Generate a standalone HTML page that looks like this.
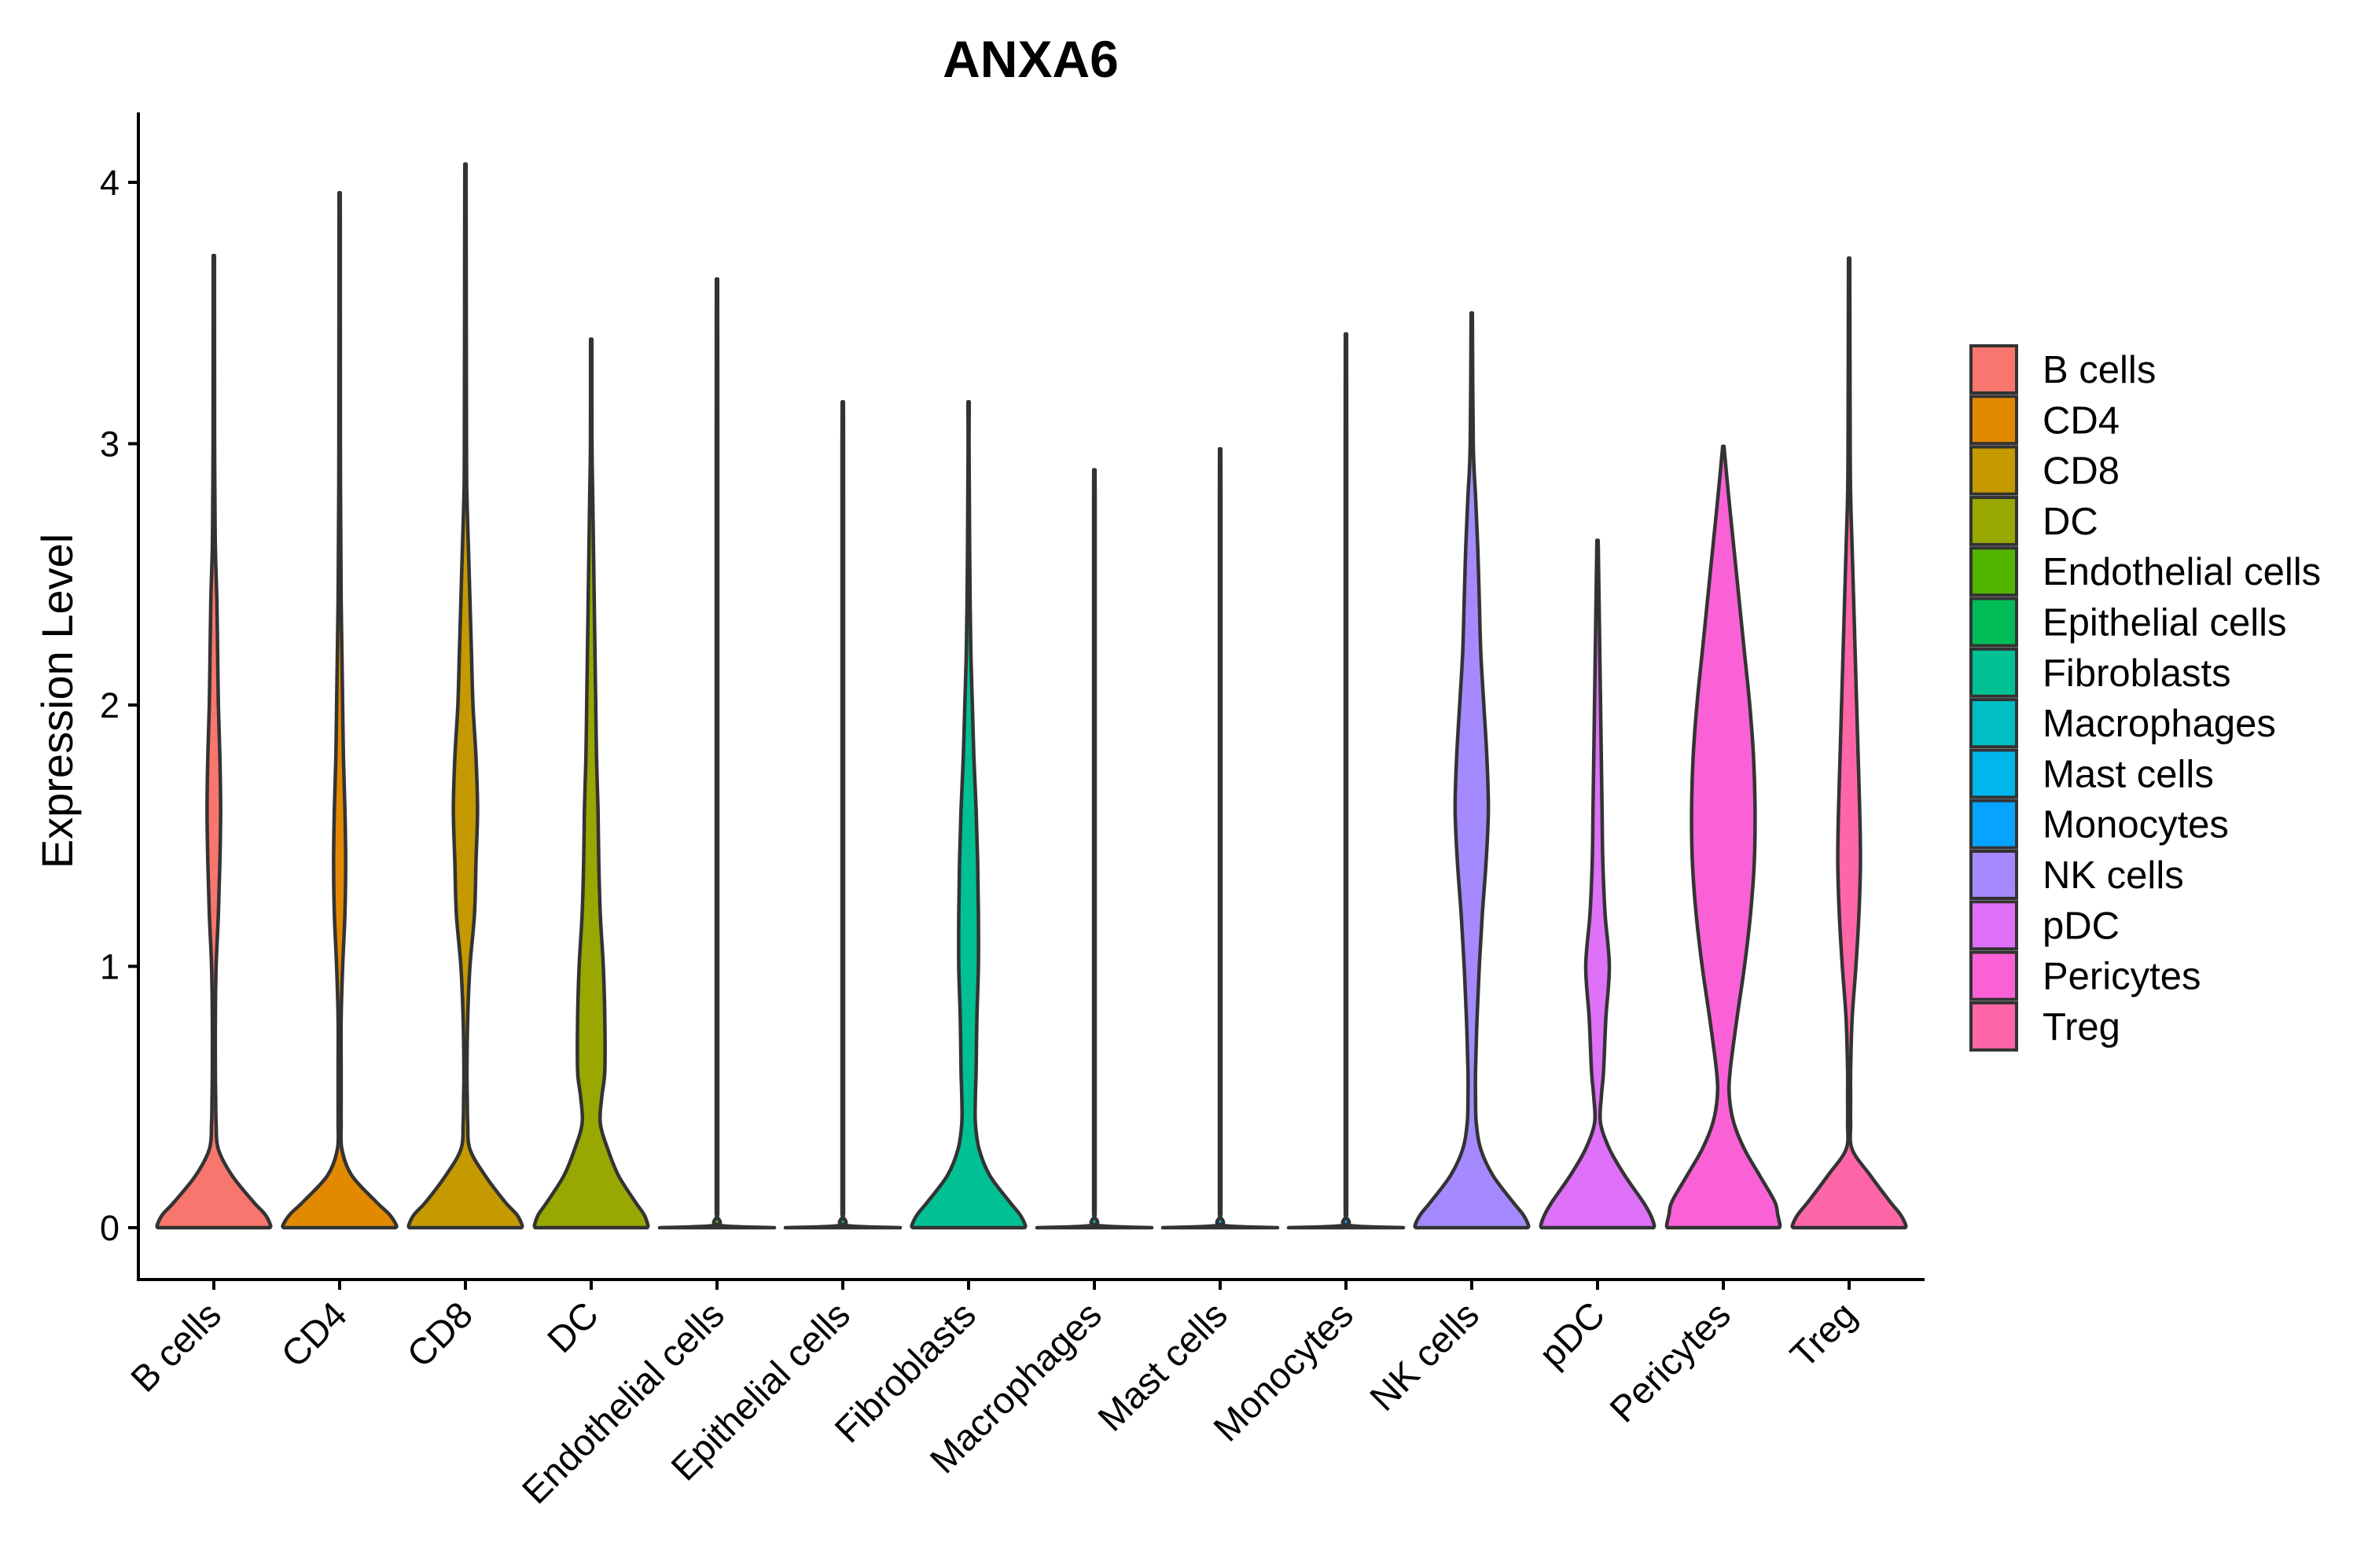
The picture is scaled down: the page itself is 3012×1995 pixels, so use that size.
<!DOCTYPE html>
<html><head><meta charset="utf-8"><style>
html,body{margin:0;padding:0;background:#fff;}
svg{display:block;font-family:"Liberation Sans",Arial,sans-serif;}
</style></head><body>
<svg id="chart" width="3012" height="1995" viewBox="0 0 3012 1995">
<text x="1311" y="98" text-anchor="middle" font-size="66" font-weight="bold">ANXA6</text>
<text transform="translate(92,892) rotate(-90)" text-anchor="middle" font-size="56">Expression Level</text>
<g id="plot"></g>
<g id="legend"></g>
</svg>
<script>
const categories=["B cells","CD4","CD8","DC","Endothelial cells","Epithelial cells","Fibroblasts","Macrophages","Mast cells","Monocytes","NK cells","pDC","Pericytes","Treg"];
const colors=["#F8766D","#E38900","#C49A00","#99A800","#53B400","#00BC56","#00C094","#00BFC4","#00B6EB","#06A4FF","#A58AFF","#DF70F8","#FB61D7","#FF66A8"];
const maxValues=[3.72,3.96,4.07,3.40,3.63,3.16,3.16,2.90,2.98,3.42,3.50,2.63,2.99,3.71];
const densityGrid=[0,0.01,0.05,0.1,0.2,0.3,0.4,0.5,0.6,0.8,1.0,1.2,1.4,1.6,1.8,2.0,2.2,2.4,2.6,2.8,3.0];
const flat=[38,0.6,0.5,0.5,0.5,0.5,0.5,0.5,0.5,0.5,0.5,0.5,0.5,0.5,0.5,0.5,0.5,0.5,0.5,0.5,0.5];
const densities=[
[37,37.5,34,26,12,3,1.5,1.2,1,1,1.5,3,4,4.5,4,3,2.5,2,1,0.7,0.5],
[37,37.5,33,24,8,1.5,1,1,1,1,2,3.5,4,3.5,2.5,2,1.5,1,0.8,0.6,0.5],
[37,37.5,34,26,13,3,1.5,1.2,1,1.5,3,6,7,8,7,5,4,3,2,1,0.7],
[37,37.5,35,29,18,11,6,7,9,9,8,6,5,4.5,3.5,3,2.5,2,1.5,1,0.5],
flat,flat,
[37,37.5,34,27,14,7,4.5,4.5,5,5.5,6.5,6.5,6,5,3.5,2.5,1.5,1,0.7,0.5,0.3],
flat,flat,flat,
[37,37.5,34,27,14,6,3,2.5,2.5,3.5,5,7,9.5,11,10,8,6,5,4,2.5,1],
[37,37.5,35,30,18,8,2,2.5,4,5.5,7.8,5,3.5,3,2.5,2,1.5,1,0.5,0,0],
[37,37.5,36,34,24,14,7,4,4.5,9,14,18,20.5,21,20,17.5,14,10.5,7,3.5,0],
[37,37.5,34,27,14,2,1,1,1,2,4.5,6.5,7.5,7,6,5,4,3,2,1,0.7]
];
const yTicks=[0,1,2,3,4];
const NS="http://www.w3.org/2000/svg";
const X0=176,X1=2448,Y0=1562,PX=332.5,AXY=1628,AXTOP=143;
const firstC=272,step=160,halfMax=73;
function xPos(i){return firstC+i*step;}
function yPos(v){return Y0-v*PX;}
function wPos(d){return d/38*halfMax;}
const plot=document.getElementById('plot');
function mk(tag,attrs,parent){const e=document.createElementNS(NS,tag);for(const k in attrs)e.setAttribute(k,attrs[k]);(parent||plot).appendChild(e);return e;}
function smooth(pts){
 let d="M"+pts[0][0]+","+pts[0][1];
 for(let i=0;i<pts.length-1;i++){
  const p0=pts[Math.max(i-1,0)],p1=pts[i],p2=pts[i+1],p3=pts[Math.min(i+2,pts.length-1)];
  const c1=[p1[0]+(p2[0]-p0[0])/6,p1[1]+(p2[1]-p0[1])/6];
  const c2=[p2[0]-(p3[0]-p1[0])/6,p2[1]-(p3[1]-p1[1])/6];
  d+=" C"+c1[0]+","+c1[1]+" "+c2[0]+","+c2[1]+" "+p2[0]+","+p2[1];
 }
 return d;
}
categories.forEach((c,i)=>{
 const cx=xPos(i),dens=densities[i],mx=maxValues[i];
 const prof=[];
 densityGrid.forEach((g,k)=>{if(g<mx&&dens[k]>0)prof.push([g,dens[k]]);});
 const right=prof.map(p=>[cx+wPos(p[1]),yPos(p[0])]);
 right.push([cx+0.8,yPos(mx)]);
 const left=prof.map(p=>[cx-wPos(p[1]),yPos(p[0])]).reverse();
 left.unshift([cx-0.8,yPos(mx)]);
 const d=smooth(right)+" L"+left[0][0]+","+left[0][1]+" "+smooth(left).slice(1).replace(/^[^C]*/,"")+" Z";
 const p=mk('path',{d:d,fill:colors[i],stroke:'#333','stroke-width':4.5,'stroke-linejoin':'round'});
 
 
 const t=mk('line',{x1:cx,x2:cx,y1:AXY,y2:AXY+13,stroke:'#000','stroke-width':4});
 
 
 const lb=mk('text',{transform:'translate('+(cx+12)+','+(AXY+48)+') rotate(-45)','text-anchor':'end','font-size':47,fill:'#000'});
 lb.textContent=c;
 
 
});
yTicks.forEach(v=>{
 const t=mk('line',{x1:X0-13,x2:X0,y1:yPos(v),y2:yPos(v),stroke:'#000','stroke-width':4});
 
 
 const lb=mk('text',{x:X0-24,y:yPos(v)+16,'text-anchor':'end','font-size':45});
 lb.textContent=v;
 
 
});
const ya=mk('line',{x1:X0,x2:X0,y1:AXTOP,y2:AXY+2,stroke:'#000','stroke-width':4});


const xa=mk('line',{x1:X0-2,x2:X1,y1:AXY,y2:AXY,stroke:'#000','stroke-width':4});


const lg=document.getElementById('legend');
categories.forEach((c,i)=>{
 const y=438+i*64.3;
 const r=mk('rect',{x:2507,y:y+2,width:58,height:60,fill:colors[i],stroke:'#333','stroke-width':4},lg);
 
 
 const t=mk('text',{x:2598,y:y+49,'font-size':49},lg);
 t.textContent=c;
 
 
});
</script>
</body></html>
